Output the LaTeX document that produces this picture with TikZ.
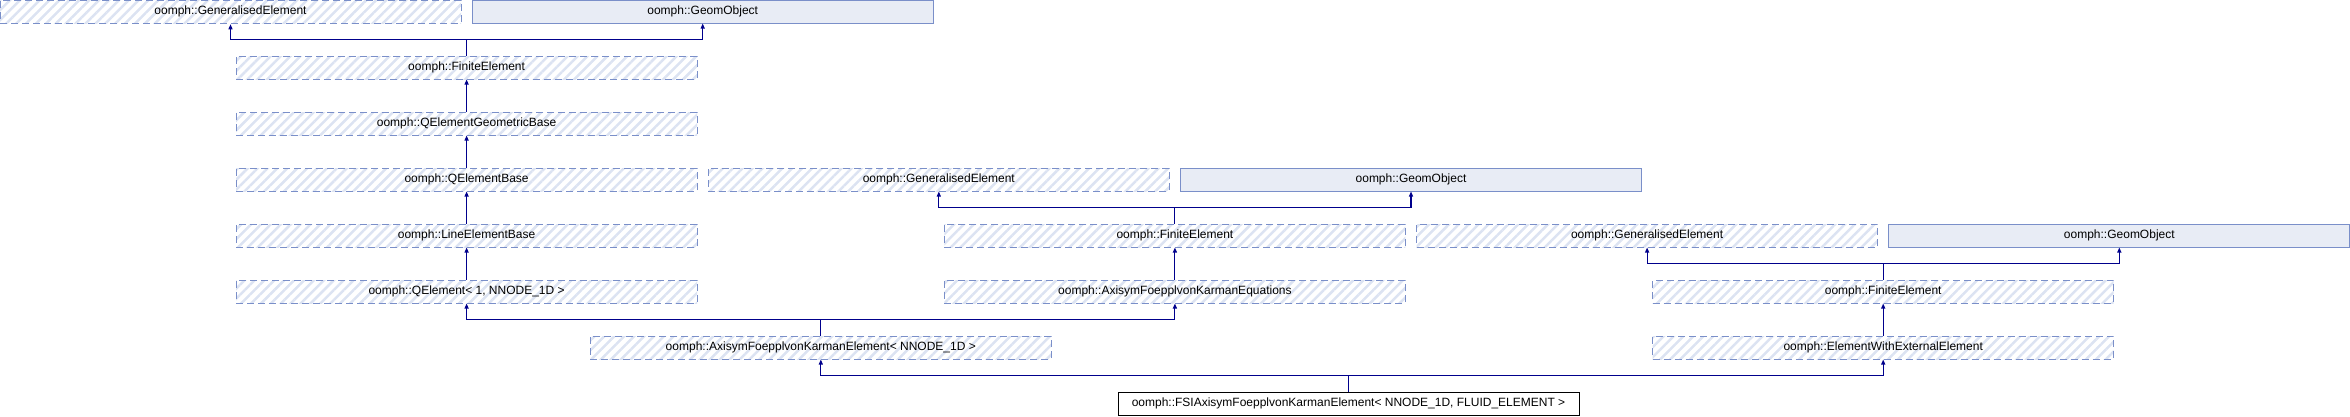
\documentclass[tikz,border=0pt]{standalone}
\usepackage{fontspec}
\setmainfont{Liberation Sans}
\usetikzlibrary{arrows.meta,patterns.meta}
\definecolor{edgeblue}{RGB}{0,0,140}
\definecolor{boxline}{RGB}{122,143,201}
\definecolor{hatchblue}{RGB}{220,227,242}
\definecolor{geomfill}{RGB}{232,236,245}

\begin{document}
\begin{tikzpicture}[x=1pt, y=-1pt,
  every node/.style={minimum width=461pt, minimum height=23pt, inner sep=0pt, font=\fontsize{12}{14}\selectfont},
  hatched/.style={draw=boxline, line width=1pt, dash pattern=on 7pt off 4pt,
    pattern={Lines[angle=45,distance=7pt,line width=2.5pt]}, pattern color=hatchblue},
  solidbox/.style={draw=boxline, line width=1pt, fill=geomfill},
  mainbox/.style={draw=black, line width=1pt, fill=white},
  link/.style={draw=edgeblue, line width=1.1pt},
  inherit/.style={link, -{Triangle[length=5pt,width=4pt]}}]
  \useasboundingbox (0,0) rectangle (2350,416);
  % classes, row by row
  \node[hatched] (gea) at (230.5,11.5) {oomph::GeneralisedElement};
  \node[solidbox] (goa) at (702.7,11.5) {oomph::GeomObject};
  \node[hatched] (fea) at (466.6,67.5) {oomph::FiniteElement};
  \node[hatched] (qegb) at (466.6,123.5) {oomph::QElementGeometricBase};
  \node[hatched] (qeb) at (466.6,179.5) {oomph::QElementBase};
  \node[hatched] (geb) at (938.8,179.5) {oomph::GeneralisedElement};
  \node[solidbox] (gob) at (1411,179.5) {oomph::GeomObject};
  \node[hatched] (leb) at (466.6,235.5) {oomph::LineElementBase};
  \node[hatched] (feb) at (1174.9,235.5) {oomph::FiniteElement};
  \node[hatched] (gec) at (1647.1,235.5) {oomph::GeneralisedElement};
  \node[solidbox] (goc) at (2119.3,235.5) {oomph::GeomObject};
  \node[hatched] (qel) at (466.6,291.5) {oomph::QElement< 1, NNODE\_1D >};
  \node[hatched] (afkeq) at (1174.9,291.5) {oomph::AxisymFoepplvonKarmanEquations};
  \node[hatched] (fec) at (1883.2,291.5) {oomph::FiniteElement};
  \node[hatched] (afkel) at (820.8,347.5) {oomph::AxisymFoepplvonKarmanElement< NNODE\_1D >};
  \node[hatched] (ewee) at (1883.2,347.5) {oomph::ElementWithExternalElement};
  \node[mainbox] (fsi) at (1348.5,403.5) {oomph::FSIAxisymFoepplvonKarmanElement< NNODE\_1D, FLUID\_ELEMENT >};
  % buses for several parents
  \coordinate (bus0) at (0,39.5);
  \coordinate (bus1) at (0,207.5);
  \coordinate (bus2) at (0,263.5);
  \coordinate (bus3) at (0,319.5);
  \coordinate (bus4) at (0,375.5);
  % inheritance
  \draw[inherit] (fea.north) |- (gea.south |- bus0) -- (gea.south);
  \draw[inherit] (fea.north) |- (goa.south |- bus0) -- (goa.south);
  \draw[inherit] (qegb.north) -- (fea.south);
  \draw[inherit] (qeb.north) -- (qegb.south);
  \draw[inherit] (leb.north) -- (qeb.south);
  \draw[inherit] (qel.north) -- (leb.south);
  \draw[inherit] (feb.north) |- (geb.south |- bus1) -- (geb.south);
  \draw[inherit] (feb.north) |- (gob.south |- bus1) -- (gob.south);
  \draw[inherit] (afkeq.north) -- (feb.south);
  \draw[inherit] (fec.north) |- (gec.south |- bus2) -- (gec.south);
  \draw[inherit] (fec.north) |- (goc.south |- bus2) -- (goc.south);
  \draw[inherit] (ewee.north) -- (fec.south);
  \draw[inherit] (afkel.north) |- (qel.south |- bus3) -- (qel.south);
  \draw[inherit] (afkel.north) |- (afkeq.south |- bus3) -- (afkeq.south);
  \draw[inherit] (fsi.north) |- (afkel.south |- bus4) -- (afkel.south);
  \draw[inherit] (fsi.north) |- (ewee.south |- bus4) -- (ewee.south);
\end{tikzpicture}
\end{document}
